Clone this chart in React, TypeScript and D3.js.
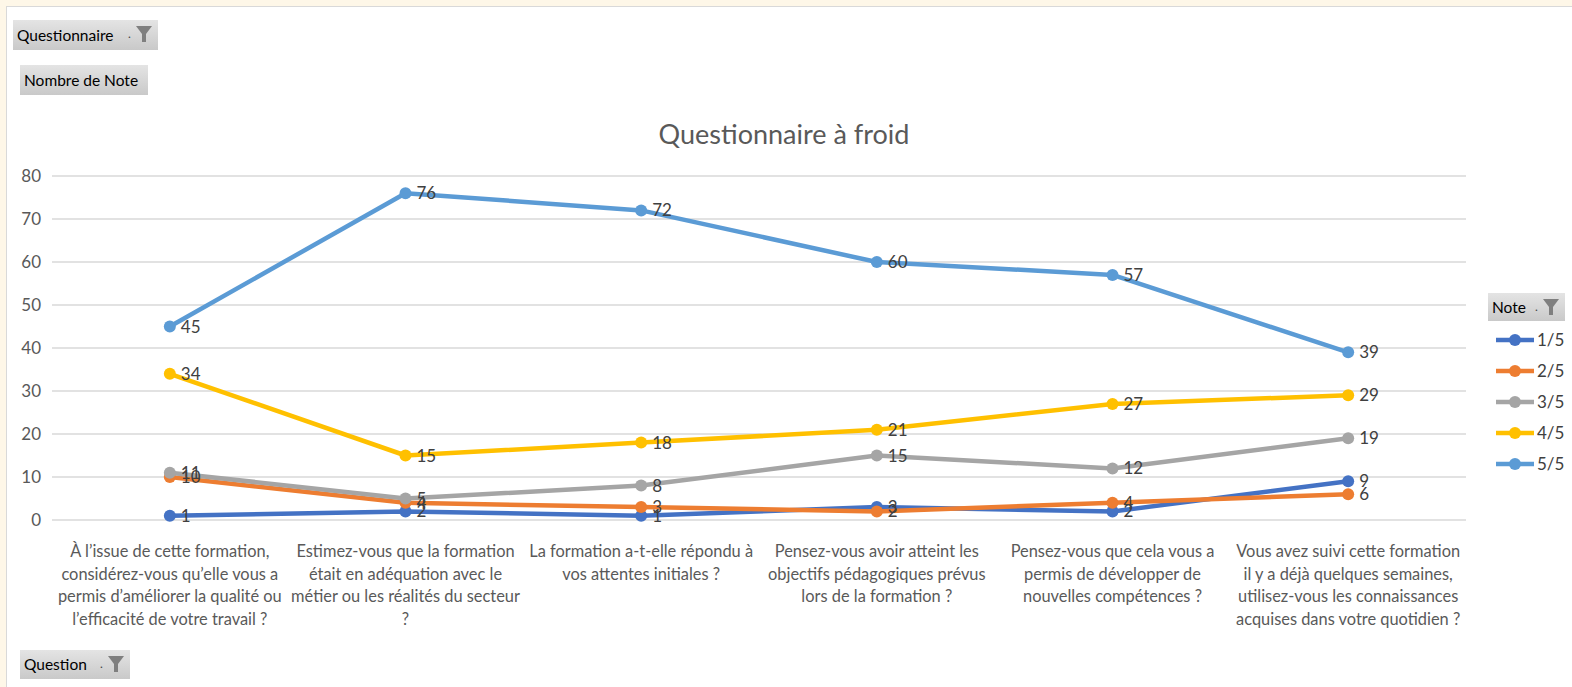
import React from "react";
import * as d3 from "d3";

const categories: string[][] = [
  ["À l’issue de cette formation,", "considérez-vous qu’elle vous a", "permis d’améliorer la qualité ou", "l’efficacité de votre travail ?"],
  ["Estimez-vous que la formation", "était en adéquation avec le", "métier ou les réalités du secteur", "?"],
  ["La formation a-t-elle répondu à", "vos attentes initiales ?"],
  ["Pensez-vous avoir atteint les", "objectifs pédagogiques prévus", "lors de la formation ?"],
  ["Pensez-vous que cela vous a", "permis de développer de", "nouvelles compétences ?"],
  ["Vous avez suivi cette formation", "il y a déjà quelques semaines,", "utilisez-vous les connaissances", "acquises dans votre quotidien ?"],
];

const seriesNames = ["1/5", "2/5", "3/5", "4/5", "5/5"];
const note1 = [1, 2, 1, 3, 2, 9];
const note2 = [10, 4, 3, 2, 4, 6];
const note3 = [11, 5, 8, 15, 12, 19];
const note4 = [34, 15, 18, 21, 27, 29];
const note5 = [45, 76, 72, 60, 57, 39];
const seriesValues = [note1, note2, note3, note4, note5];
const seriesColors = ["#4472C4", "#ED7D31", "#A5A5A5", "#FFC000", "#5B9BD5"];
const yTicks = [0, 10, 20, 30, 40, 50, 60, 70, 80];

const FONT = "Lato, Calibri, 'Open Sans', sans-serif";

function Funnel({ x, y }: { x: number; y: number }) {
  return (
    <g>
      <text x={x - 8} y={y + 12} fontSize={12} fill="#404040" fontFamily={FONT}>.</text>
      <path d={`M${x},${y} L${x + 16},${y} L${x + 10},${y + 8} L${x + 10},${y + 16} L${x + 6},${y + 16} L${x + 6},${y + 8} Z`} fill="#7f7f7f" />
    </g>
  );
}

function Button({ x, y, w, h, label, funnel }: { x: number; y: number; w: number; h: number; label: string; funnel?: boolean }) {
  return (
    <g>
      <rect x={x} y={y} width={w} height={h} fill="url(#btnGrad)" />
      <text x={x + 4} y={y + h / 2 + 5.5} fontSize={15.5} fill="#000" fontFamily={FONT}>{label}</text>
      {funnel && <Funnel x={x + w - 22} y={y + 6} />}
    </g>
  );
}

export default function App() {
  const W = 1572, H = 687;
  const left = 52, right = 1466, top = 176, bottom = 520;
  const x = d3.scaleBand<number>().domain(d3.range(categories.length)).range([left, right]);
  const cx = (i: number) => (x(i) as number) + x.bandwidth() / 2;
  const y = d3.scaleLinear().domain([0, 80]).range([bottom, top]);
  const line = d3.line<number>().x((_, i) => cx(i)).y((d) => y(d));

  return (
    <svg width={W} height={H} style={{ position: "absolute", left: 0, top: 0, background: "#fff" }} fontFamily={FONT}>
      <defs>
        <linearGradient id="btnGrad" x1="0" y1="0" x2="0" y2="1">
          <stop offset="0" stopColor="#e4e4e4" />
          <stop offset="1" stopColor="#c9c9c9" />
        </linearGradient>
      </defs>
      <rect x={0} y={0} width={W} height={H} fill="#fff" />
      <rect x={0} y={0} width={W} height={6} fill="#FEF7E8" />
      <rect x={0} y={0} width={6} height={H} fill="#FEF7E8" />
      <line x1={6} y1={6.5} x2={W} y2={6.5} stroke="#d9d9d9" />
      <line x1={6.5} y1={6} x2={6.5} y2={H} stroke="#d9d9d9" />

      <Button x={13} y={20} w={145} h={30} label="Questionnaire" funnel />
      <Button x={20} y={65} w={128} h={30} label="Nombre de Note" />
      <Button x={20} y={650} w={110} h={29} label="Question" funnel />

      <text x={784} y={144} textAnchor="middle" fontSize={27} fill="#595959">Questionnaire à froid</text>

      {yTicks.map((t) => (
        <g key={t}>
          <line x1={left} x2={right} y1={y(t)} y2={y(t)} stroke="#d9d9d9" strokeWidth={1.5} />
          <text x={41} y={y(t) + 6} textAnchor="end" fontSize={17} fill="#595959">{t}</text>
        </g>
      ))}

      {categories.map((lines, i) => (
        <text key={i} textAnchor="middle" fontSize={16.4} fill="#595959">
          {lines.map((l, j) => (
            <tspan key={j} x={cx(i)} y={557 + j * 22.5}>{l}</tspan>
          ))}
        </text>
      ))}

      {seriesValues.map((vals, s) => (
        <g key={s}>
          <path d={line(vals) || ""} fill="none" stroke={seriesColors[s]} strokeWidth={4.5} strokeLinejoin="round" strokeLinecap="round" />
          {vals.map((v, i) => (
            <circle key={i} cx={cx(i)} cy={y(v)} r={6} fill={seriesColors[s]} />
          ))}
        </g>
      ))}
      {seriesValues.map((vals, s) => (
        <g key={"l" + s}>
          {vals.map((v, i) => (
            <text key={i} x={cx(i) + 11} y={y(v) + 6} fontSize={17} fill="#404040">{v}</text>
          ))}
        </g>
      ))}

      <Button x={1488} y={293} w={77} h={28} label="Note" funnel />
      {seriesNames.map((n, s) => {
        const ly = 340 + s * 31;
        return (
          <g key={n}>
            <line x1={1496} x2={1534} y1={ly} y2={ly} stroke={seriesColors[s]} strokeWidth={4.5} />
            <circle cx={1515} cy={ly} r={6} fill={seriesColors[s]} />
            <text x={1537} y={ly + 6} fontSize={17} fill="#404040">{n}</text>
          </g>
        );
      })}
    </svg>
  );
}
